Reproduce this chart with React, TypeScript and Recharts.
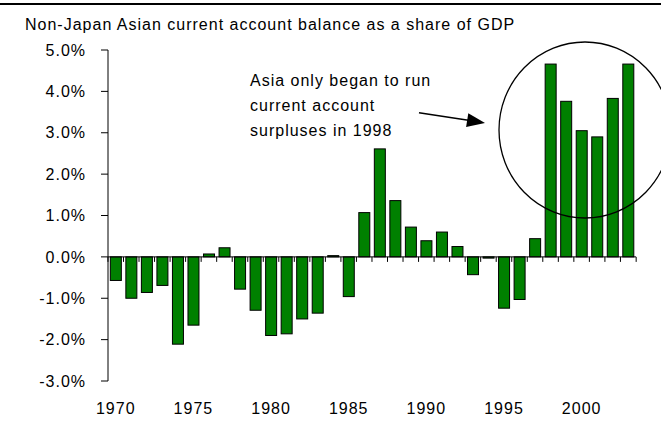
import { BarChart, Bar, XAxis, YAxis, ReferenceLine } from 'recharts';

const years = [
  1970, 1971, 1972, 1973, 1974, 1975, 1976, 1977, 1978, 1979,
  1980, 1981, 1982, 1983, 1984, 1985, 1986, 1987, 1988, 1989,
  1990, 1991, 1992, 1993, 1994, 1995, 1996, 1997, 1998, 1999,
  2000, 2001, 2002, 2003,
];
const balance = [
  -0.57, -1.0, -0.86, -0.69, -2.11, -1.65, 0.07, 0.22, -0.78, -1.29,
  -1.9, -1.86, -1.5, -1.36, 0.03, -0.96, 1.07, 2.61, 1.36, 0.72,
  0.39, 0.6, 0.25, -0.43, -0.03, -1.24, -1.03, 0.44, 4.66, 3.76,
  3.05, 2.9, 3.83, 4.66,
];
const xTicks = [1970, 1975, 1980, 1985, 1990, 1995, 2000];
const yTicks = [-3, -2, -1, 0, 1, 2, 3, 4, 5];

const data = years.map((year, i) => ({ year, balance: balance[i] }));

const GAP = 0.15;
const FONT = '"Liberation Sans", Arial, sans-serif';

// bar plus the little tick mark on the zero line at the left edge of its band
function BarWithTick(props: any) {
  const { x, y, width, height, index, payload } = props;
  const top = Math.min(y, y + height);
  const h = Math.abs(height);
  const zeroY = payload.balance >= 0 ? top + h : top;
  const band = width / (1 - 2 * GAP);
  const left = x - band * GAP;
  return (
    <g>
      <line x1={left} x2={left} y1={zeroY} y2={zeroY + 5} stroke="#000" />
      {index === years.length - 1 && (
        <line x1={left + band} x2={left + band} y1={zeroY} y2={zeroY + 5} stroke="#000" />
      )}
      <rect x={x} y={top} width={width} height={Math.max(h, 1)} fill="#008000" stroke="#000" strokeWidth={1} />
    </g>
  );
}

export default function App() {
  const tickStyle = { fill: '#000', fontSize: 16 };
  return (
    <div style={{ position: 'absolute', left: 0, top: 0, width: 661, height: 441, background: '#fff', fontFamily: FONT, letterSpacing: 1 }}>
      <BarChart
        width={661}
        height={441}
        data={data}
        margin={{ top: 50, right: 25, bottom: 20, left: 0 }}
        barCategoryGap={`${GAP * 100}%`}
      >
        <XAxis
          dataKey="year"
          ticks={xTicks}
          interval={0}
          axisLine={false}
          tickLine={false}
          tickSize={0}
          tickMargin={22}
          height={40}
          tick={tickStyle}
        />
        <YAxis
          domain={[-3, 5]}
          ticks={yTicks}
          width={108}
          tickFormatter={(v: number) => `${v.toFixed(1)}%`}
          axisLine={{ stroke: '#000' }}
          tickLine={{ stroke: '#000' }}
          tickSize={7}
          tickMargin={15}
          tick={tickStyle}
        />
        <Bar dataKey="balance" shape={BarWithTick} isAnimationActive={false} />
        <ReferenceLine y={0} stroke="#000" strokeWidth={1} />
      </BarChart>

      <svg width={661} height={441} style={{ position: 'absolute', left: 0, top: 0, pointerEvents: 'none' }}>
        <rect x={0} y={3} width={661} height={2} fill="#000" />
        <text x={25} y={30} fontSize={16} fill="#000">
          Non-Japan Asian current account balance as a share of GDP
        </text>
        <text x={250} y={86} fontSize={16} fill="#000">Asia only began to run</text>
        <text x={250} y={111} fontSize={16} fill="#000">current account</text>
        <text x={250} y={136} fontSize={16} fill="#000">surpluses in 1998</text>
        <line x1={419} y1={112.7} x2={470} y2={120.6} stroke="#000" strokeWidth={1.5} />
        <polygon points="485,123 466.1,127.1 468.3,113.3" fill="#000" />
        <ellipse cx={585} cy={130} rx={86} ry={88} fill="none" stroke="#000" strokeWidth={1.3} />
      </svg>
    </div>
  );
}
